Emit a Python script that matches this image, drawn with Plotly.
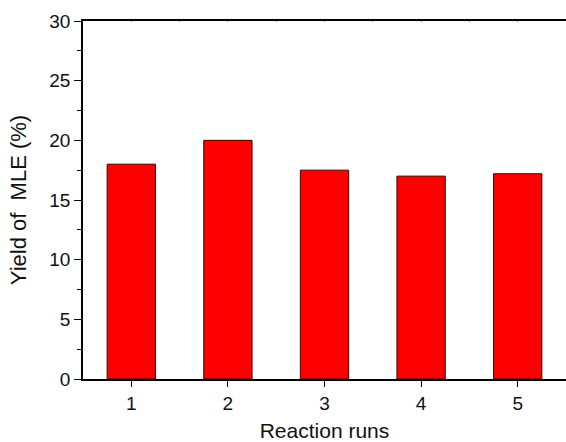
import plotly.graph_objects as go

runs = [1, 2, 3, 4, 5]
yields = [18.0, 20.0, 17.5, 17.0, 17.2]
y_ticks = [0, 5, 10, 15, 20, 25, 30]

fig = go.Figure()
fig.add_trace(go.Bar(
    x=runs, y=yields, width=0.5,
    marker=dict(color="#ff0000", line=dict(color="#3a0000", width=1)),
    showlegend=False,
))
# invisible trace for top axis
fig.add_trace(go.Scatter(x=[0.5], y=[0], xaxis="x2", mode="markers",
                         marker=dict(opacity=0), showlegend=False, hoverinfo="skip"))

font = "Liberation Sans, Arial, sans-serif"
fig.update_layout(
    width=566, height=442,
    margin=dict(l=83, r=0, t=21, b=63),
    plot_bgcolor="white", paper_bgcolor="white",
    font=dict(family=font, size=19, color="#111111"),
    xaxis=dict(
        range=[0.5, 5.5], tickvals=runs, ticktext=[str(r) for r in runs],
        ticks="outside", ticklen=6, tickwidth=1.2, tickcolor="black",
        showline=True, linecolor="black", linewidth=1.5,
        showgrid=False, zeroline=False,
        title=dict(text="Reaction runs", font=dict(size=21), standoff=12),
    ),
    xaxis2=dict(
        range=[0.5, 5.5], overlaying="x", side="top",
        tickvals=[0.5 + 0.5 * i for i in range(11)],
        ticks="inside", ticklen=1, tickcolor="#888",
        showticklabels=False, showline=True, linecolor="black", linewidth=1.5,
        showgrid=False, zeroline=False,
    ),
    yaxis=dict(
        range=[0, 30], tickvals=y_ticks,
        ticks="outside", ticklen=7, tickwidth=1.2, tickcolor="black",
        minor=dict(dtick=2.5, ticks="outside", ticklen=4, tickcolor="black", tickwidth=1),
        showline=True, linecolor="black", linewidth=1.5,
        showgrid=False, zeroline=False,
        title=dict(text="Yield of  MLE (%)", font=dict(size=22), standoff=17),
    ),
)

fig.write_html("out.html")
